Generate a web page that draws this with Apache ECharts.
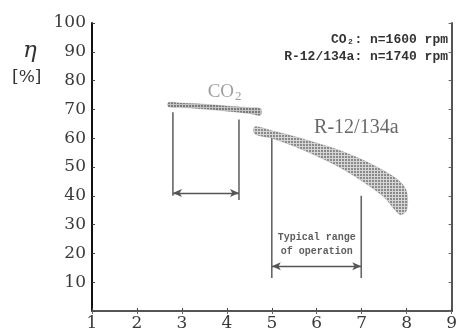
<!DOCTYPE html>
<html>
<head>
<meta charset="utf-8">
<script src="https://cdn.jsdelivr.net/npm/echarts@6/dist/echarts.min.js"></script>
<style>
  html, body { margin: 0; padding: 0; background: #fff; }
  #chart { width: 460px; height: 332px; }
</style>
</head>
<body>
<div id="chart"></div>
<script>
// Compressor efficiency vs. pressure ratio
const xTicks = [1, 2, 3, 4, 5, 6, 7, 8, 9];
const yTicks = [10, 20, 30, 40, 50, 60, 70, 80, 90, 100];

// CO2 efficiency band (upper / lower edge)
const co2X     = [2.7, 3.0, 3.5, 4.0, 4.5, 4.75];
const co2Upper = [72.4, 72.2, 71.8, 71.2, 70.6, 70.3];
const co2Lower = [70.9, 70.7, 70.1, 69.4, 68.6, 68.0];

// R-12/134a efficiency band (upper / lower edge)
const rX     = [4.62, 5.0, 5.5, 6.0, 6.5, 7.0, 7.5, 7.85, 8.0];
const rUpper = [64.0, 62.6, 60.6, 58.3, 55.8, 52.6, 48.6, 45.0, 41.5];
const rLower = [61.5, 60.0, 57.2, 53.8, 50.0, 45.2, 39.5, 33.5, 35.0];

// Typical operating ranges: [x, topEta, bottomEta]
const co2RangeLines = [[2.8, 69.0, 40.0], [4.27, 66.5, 38.5]];
const co2RangeArrowEta = 41;
const rRangeLines = [[5.0, 61.0, 11.5], [6.99, 40.0, 11.5]];
const rRangeArrowEta = 15.5;

// halftone fill for the bands
function halftone(dark, light) {
  const c = document.createElement('canvas');
  c.width = 3; c.height = 3;
  const g = c.getContext('2d');
  g.fillStyle = light; g.fillRect(0, 0, 3, 3);
  g.fillStyle = dark; g.fillRect(0, 0, 2, 2);
  return c;
}

function bandSeries(xs, up, lo, fill) {
  return {
    type: 'custom',
    silent: true,
    z: 3,
    data: [[xs[0], up[0]]],
    renderItem: function (params, api) {
      const pts = [];
      for (let i = 0; i < xs.length; i++) pts.push(api.coord([xs[i], up[i]]));
      for (let i = xs.length - 1; i >= 0; i--) pts.push(api.coord([xs[i], lo[i]]));
      return {
        type: 'polygon',
        shape: { points: pts, smooth: 0.3 },
        style: { fill: fill, stroke: 'rgba(120,120,120,0.35)', lineWidth: 0.8 }
      };
    }
  };
}

function vLines(lines) {
  return lines.map(function (l) {
    return {
      type: 'line', silent: true, symbol: 'none', z: 2,
      data: [[l[0], l[1]], [l[0], l[2]]],
      lineStyle: { color: '#666', width: 1.6 }
    };
  });
}

function arrowSeries(lines, eta) {
  return {
    type: 'line', silent: true, symbol: 'none', data: [],
    markLine: {
      silent: true, animation: false,
      symbol: ['arrow', 'arrow'], symbolSize: [6, 9],
      label: { show: false },
      lineStyle: { color: '#555', width: 1.3, type: 'solid' },
      data: [[{ coord: [lines[0][0], eta] }, { coord: [lines[1][0], eta] }]]
    }
  };
}

function textSeries(x, y, label) {
  return {
    type: 'scatter', silent: true, symbolSize: 0, z: 5,
    data: [[x, y]],
    label: Object.assign({ show: true, position: 'inside' }, label)
  };
}

const chart = echarts.init(document.getElementById('chart'), null, { renderer: 'canvas' });
const band = halftone('#8a8a8a', '#d6d6d6');

const option = {
  animation: false,
  backgroundColor: '#fff',
  grid: { left: 92, right: 3, top: 23, bottom: 19 },
  xAxis: [{
    type: 'value', min: 1, max: 9, interval: 1,
    axisLine: { show: true, lineStyle: { color: '#111', width: 2 } },
    axisTick: { show: true, inside: true, length: 3, lineStyle: { color: '#444' } },
    axisLabel: { color: '#3a3a3a', fontFamily: 'DejaVu Serif', fontSize: 17, margin: 4,
                 formatter: function (v) { return xTicks.indexOf(v) >= 0 ? String(v) : ''; } },
    splitLine: { show: false }
  }, {
    type: 'value', min: 1, max: 9, interval: 1, position: 'top',
    axisLine: { show: true, lineStyle: { color: '#555', width: 2 } },
    axisTick: { show: true, inside: true, length: 3, lineStyle: { color: '#666' } },
    axisLabel: { show: false }, splitLine: { show: false }
  }],
  yAxis: [{
    type: 'value', min: 0, max: 100, interval: 10,
    axisLine: { show: true, lineStyle: { color: '#111', width: 2 } },
    axisTick: { show: true, inside: true, length: 3, lineStyle: { color: '#444' } },
    axisLabel: { color: '#3a3a3a', fontFamily: 'DejaVu Serif', fontSize: 17, margin: 6,
                 formatter: function (v) { return yTicks.indexOf(v) >= 0 ? String(v) : ''; } },
    splitLine: { show: false }
  }, {
    type: 'value', min: 0, max: 100, interval: 10, position: 'right',
    axisLine: { show: true, lineStyle: { color: '#555', width: 2 } },
    axisTick: { show: true, inside: true, length: 3, lineStyle: { color: '#666' } },
    axisLabel: { show: false }, splitLine: { show: false }
  }],
  graphic: [
    { type: 'text', left: 23, top: 40,
      style: { text: 'η', font: 'italic 23px "DejaVu Serif"', fill: '#333' } },
    { type: 'text', left: 12, top: 69,
      style: { text: '[%]', font: '17px "DejaVu Serif"', fill: '#333' } },
    { type: 'text', right: 12, top: 33,
      style: { text: 'CO₂: n=1600 rpm', font: 'bold 13px "Liberation Mono"', fill: '#333', textAlign: 'right' } },
    { type: 'text', right: 12, top: 50,
      style: { text: 'R-12/134a: n=1740 rpm', font: 'bold 13px "Liberation Mono"', fill: '#333', textAlign: 'right' } }
  ],
  series: [].concat(
    vLines(co2RangeLines),
    vLines(rRangeLines),
    [
      arrowSeries(co2RangeLines, co2RangeArrowEta),
      arrowSeries(rRangeLines, rRangeArrowEta),
      bandSeries(co2X, co2Upper, co2Lower, { image: halftone('#7a7a7a', '#c4c4c4'), repeat: 'repeat' }),
      bandSeries(rX, rUpper, rLower, { image: band, repeat: 'repeat' }),
      textSeries(3.95, 76, {
        formatter: '{a|CO}{b|2}',
        rich: {
          a: { fontFamily: 'Liberation Serif', fontSize: 19, color: '#888' },
          b: { fontFamily: 'Liberation Serif', fontSize: 13, color: '#888', padding: [8, 0, 0, 1] }
        }
      }),
      textSeries(6.88, 63.8, {
        formatter: 'R-12/134a', fontFamily: 'Liberation Serif', fontSize: 20, color: '#444'
      }),
      textSeries(6.0, 25.6, {
        formatter: 'Typical range', fontFamily: 'Liberation Mono', fontWeight: 'bold', fontSize: 10, color: '#333'
      }),
      textSeries(6.0, 20.8, {
        formatter: 'of operation', fontFamily: 'Liberation Mono', fontWeight: 'bold', fontSize: 10, color: '#333'
      })
    ]
  )
};

chart.setOption(option);
</script>
</body>
</html>
